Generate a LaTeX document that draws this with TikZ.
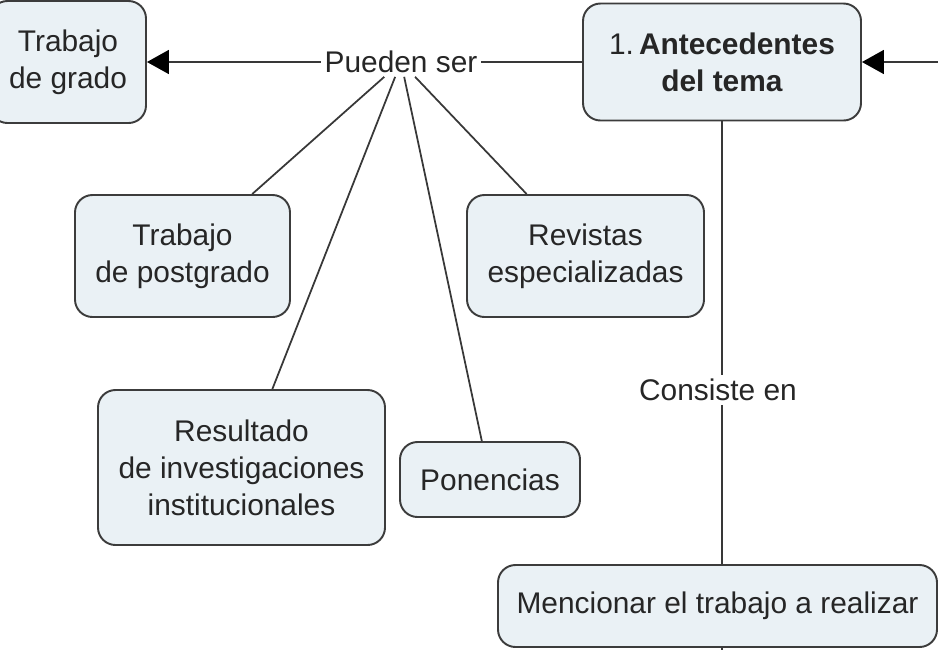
\documentclass[tikz,border=0pt]{standalone}
\usepackage{fontspec}
\setmainfont{Liberation Sans}
\usetikzlibrary{arrows.meta}

\definecolor{cajafondo}{HTML}{EAF1F5}
\definecolor{cajaborde}{HTML}{3C3C3C}
\definecolor{texto}{HTML}{262626}

\tikzset{
  concepto/.style={draw=cajaborde, fill=cajafondo, line width=1.1pt,
    rounded corners=3.5mm, align=center, text=texto,
    font=\fontsize{17}{21}\selectfont},
  enlace/.style={inner sep=2pt, text=texto, font=\fontsize{17}{21}\selectfont},
  linea/.style={draw=black!78, line width=1pt},
  flecha/.style={linea, -{Triangle[length=4.4mm, width=4.8mm, black]}}
}

\begin{document}
\begin{tikzpicture}
  \useasboundingbox (0,0) rectangle (18.76,-12.98);

  \node[concepto, minimum width=3.12cm, minimum height=2.44cm] (grado)
    at (1.36,-1.24) {Trabajo\\de grado};
  \node[concepto, minimum width=5.56cm, minimum height=2.34cm] (antecedentes)
    at (14.44,-1.24) {1.\,\textbf{Antecedentes}\\\textbf{del tema}};
  \node[enlace] (pueden) at (8.02,-1.24) {Pueden ser};

  \node[concepto, minimum width=4.3cm, minimum height=2.44cm] (postgrado)
    at (3.65,-5.12) {Trabajo\\de postgrado};
  \node[concepto, minimum width=4.74cm, minimum height=2.44cm] (revistas)
    at (11.71,-5.12) {Revistas\\especializadas};
  \node[concepto, minimum width=5.74cm, minimum height=3.1cm] (resultado)
    at (4.83,-9.35) {Resultado\\de investigaciones\\institucionales};
  \node[concepto, minimum width=3.6cm, minimum height=1.5cm] (ponencias)
    at (9.8,-9.59) {Ponencias};

  \node[enlace] (consiste) at (14.36,-7.8) {Consiste en};
  \node[concepto, minimum width=8.78cm, minimum height=1.64cm] (mencionar)
    at (14.35,-12.12) {Mencionar el trabajo a realizar};

  \coordinate (entrada) at (19.2,-1.24);
  \coordinate (salida) at (14.44,-13.3);

  % enlaces de "Pueden ser"
  \draw[linea] (antecedentes) -- (pueden);
  \draw[flecha] (pueden) -- (grado);
  \draw[linea] (pueden) -- (postgrado);
  \draw[linea] (pueden) -- (revistas);
  \draw[linea] (pueden) -- (resultado);
  \draw[linea] (pueden) -- (ponencias);

  % enlaces de "Consiste en"
  \draw[linea] (antecedentes.south) -- (antecedentes.south |- consiste.north);
  \draw[linea] (antecedentes.south |- consiste.south) -- (antecedentes.south |- mencionar.north);
  \draw[linea] (antecedentes.south |- mencionar.south) -- (salida);

  \draw[flecha] (entrada) -- (antecedentes);
\end{tikzpicture}
\end{document}
